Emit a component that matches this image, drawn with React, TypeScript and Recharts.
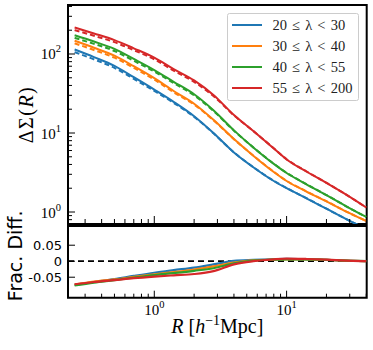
import { LineChart, Line, XAxis, YAxis, ReferenceArea, ReferenceLine, Label } from 'recharts';

const SERIF = '"Liberation Serif", "DejaVu Serif", serif';
const SANS = '"DejaVu Sans", sans-serif';

const COLORS = ['#1f77b4', '#ff7f0e', '#2ca02c', '#d62728'];
const LABELS = ['20 ≤ λ < 30', '30 ≤ λ < 40', '40 ≤ λ < 55', '55 ≤ λ < 200'];

// projected radius, h^-1 Mpc
const R = [0.25, 0.35, 0.5, 0.7, 1.0, 1.4, 2.0, 2.8, 4.0, 5.6, 8.0, 10, 14, 20, 28, 40];

// Delta Sigma(R), solid = measured, dashed = model
const blueSolid = [114, 91.4, 70.7, 50.8, 35.4, 24.8, 16.3, 10, 5.67, 3.69, 2.47, 2.0, 1.5, 1.1, 0.82, 0.61];
const blueDashed = [105.6, 85.5, 66.7, 48.5, 34.1, 24.1, 16.0, 9.9, 5.68, 3.7, 2.48, 2.01, 1.51, 1.1, 0.82, 0.61];
const orangeSolid = [147, 120, 95.2, 70.1, 49.5, 34, 23.5, 14.7, 8.37, 5.16, 3.21, 2.47, 1.83, 1.36, 1.02, 0.77];
const orangeDashed = [136.3, 112.3, 89.8, 66.7, 47.5, 32.8, 22.9, 14.5, 8.34, 5.18, 3.23, 2.48, 1.84, 1.37, 1.02, 0.77];
const greenSolid = [173, 144, 116, 86.5, 62.7, 44.5, 30.9, 19.4, 10.8, 6.57, 4.07, 3.12, 2.26, 1.63, 1.19, 0.865];
const greenDashed = [159.9, 134.4, 109.2, 82.1, 60, 42.9, 30, 19, 10.7, 6.58, 4.09, 3.14, 2.27, 1.64, 1.19, 0.865];
const redSolid = [216, 182, 150, 118, 90, 64.5, 46.3, 30.3, 16.9, 10.6, 6.37, 4.62, 3.28, 2.33, 1.67, 1.14];
const redDashed = [200.4, 170.2, 141.2, 111.7, 85.7, 61.6, 44.4, 29.4, 16.7, 10.6, 6.41, 4.66, 3.3, 2.34, 1.67, 1.14];

// fractional difference
const blueFrac = [-0.074, -0.065, -0.056, -0.046, -0.036, -0.028, -0.02, -0.01, 0.001, 0.004, 0.006, 0.007, 0.006, 0.004, 0.002, 0.0];
const orangeFrac = [-0.073, -0.064, -0.057, -0.049, -0.041, -0.034, -0.026, -0.016, -0.004, 0.003, 0.005, 0.006, 0.006, 0.004, 0.002, 0.0];
const greenFrac = [-0.076, -0.067, -0.059, -0.051, -0.043, -0.037, -0.03, -0.022, -0.007, 0.002, 0.005, 0.006, 0.006, 0.004, 0.002, 0.0];
const redFrac = [-0.072, -0.065, -0.059, -0.053, -0.048, -0.044, -0.04, -0.031, -0.01, 0.0, 0.006, 0.008, 0.007, 0.005, 0.002, 0.0];

const X_TICKS = [0.3, 0.4, 0.5, 0.6, 0.7, 0.8, 0.9, 1, 2, 3, 4, 5, 6, 7, 8, 9, 10, 20, 30, 40];
const Y_TICKS = [0.8, 0.9, 1, 2, 3, 4, 5, 6, 7, 8, 9, 10, 20, 30, 40, 50, 60, 70, 80, 90, 100, 200, 300, 400];
const FRAC_TICKS = [-0.05, 0, 0.05];

const X_DOMAIN = [0.2228, 40.3];
const Y_DOMAIN = [0.705, 417];
const FRAC_DOMAIN = [-0.114, 0.11];

const topData = R.map((r, i) => ({
  R: r,
  b: blueSolid[i], bd: blueDashed[i],
  o: orangeSolid[i], od: orangeDashed[i],
  g: greenSolid[i], gd: greenDashed[i],
  r: redSolid[i], rd: redDashed[i],
}));

const fracData = R.map((r, i) => ({ R: r, b: blueFrac[i], o: orangeFrac[i], g: greenFrac[i], r: redFrac[i] }));

const isMajor = (v: number) => v === 1 || v === 10 || v === 100;
const expOf = (v: number) => Math.round(Math.log10(v));

function YTickTop(props: any) {
  const { x, y, payload } = props;
  const v = payload.value;
  const major = isMajor(v);
  return (
    <g>
      <line x1={x} x2={x + (major ? 7 : 4)} y1={y} y2={y} stroke="#000" strokeWidth={1} />
      {major && (
        <text x={x - 7} y={y + 5.5} textAnchor="end" fontFamily={SERIF} fontSize={15} fill="#000">
          10<tspan dy={-7} fontSize={10.5}>{expOf(v)}</tspan>
        </text>
      )}
    </g>
  );
}

function XTickTop(props: any) {
  const { x, y, payload } = props;
  const major = isMajor(payload.value);
  return <line x1={x} x2={x} y1={y - 1} y2={y - 1 - (major ? 7 : 4)} stroke="#000" strokeWidth={1} />;
}

function XTickBottom(props: any) {
  const { x, y, payload } = props;
  const v = payload.value;
  const major = isMajor(v);
  return (
    <g>
      <line x1={x} x2={x} y1={y} y2={y - (major ? 7 : 4)} stroke="#000" strokeWidth={1} />
      {major && (
        <text x={x} y={y + 17.5} textAnchor="middle" fontFamily={SERIF} fontSize={15} fill="#000">
          10<tspan dy={-7} fontSize={10.5}>{expOf(v)}</tspan>
        </text>
      )}
    </g>
  );
}

function FracTick(props: any) {
  const { x, y, payload } = props;
  const v = payload.value;
  return (
    <g>
      <line x1={x} x2={x + 7} y1={y} y2={y} stroke="#000" strokeWidth={1} />
      <text x={x - 6} y={y + 4.8} textAnchor="end" fontFamily={SANS} fontSize={13} fill="#000">
        {v === 0 ? '0' : v.toFixed(2)}
      </text>
    </g>
  );
}

function DeltaSigmaLabel(props: any) {
  const vb = props.viewBox;
  const cx = 33;
  const cy = vb.y + vb.height / 2;
  return (
    <text x={cx} y={cy} transform={`rotate(-90, ${cx}, ${cy})`} textAnchor="middle" fontFamily={SERIF} fontSize={20} letterSpacing={1.5} fill="#000">
      ΔΣ(<tspan fontStyle="italic">R</tspan>)
    </text>
  );
}

function FracLabel(props: any) {
  const vb = props.viewBox;
  const cx = 21.7;
  const cy = vb.y + vb.height / 2 - 6;
  return (
    <text x={cx} y={cy} transform={`rotate(-90, ${cx}, ${cy})`} textAnchor="middle" fontFamily={SANS} fontSize={19} fill="#000">
      Frac. Diff.
    </text>
  );
}

function RLabel(props: any) {
  const vb = props.viewBox;
  return (
    <text x={vb.x + vb.width / 2} y={vb.y + 35.5} textAnchor="middle" fontFamily={SERIF} fontSize={20} fill="#000">
      <tspan fontStyle="italic">R</tspan> [<tspan fontStyle="italic">h</tspan>
      <tspan dy={-8} fontSize={14}>−1</tspan>
      <tspan dy={8}>Mpc]</tspan>
    </text>
  );
}

const SOLID_KEYS = ['b', 'o', 'g', 'r'];

function LegendBox() {
  return (
    <svg width={373} height={350} style={{ position: 'absolute', left: 0, top: 0, pointerEvents: 'none' }}>
      <rect x={227.5} y={13.5} width={131} height={87} rx={2} fill="#fff" fillOpacity={0.85} stroke="#ccc" strokeWidth={1} />
      {LABELS.map((lab, i) => {
        const cy = 25 + i * 21;
        return (
          <g key={lab}>
            <line x1={232} x2={262} y1={cy} y2={cy} stroke={COLORS[i]} strokeWidth={2} />
            <text x={272.5} y={cy + 4.8} fontFamily={SERIF} fontSize={14.5} fill="#222" wordSpacing={1.5}>
              {lab}
            </text>
          </g>
        );
      })}
    </svg>
  );
}

export default function App() {
  return (
    <div style={{ position: 'absolute', left: 0, top: 0, width: 373, height: 350, background: '#fff' }}>
      <div style={{ position: 'absolute', left: 0, top: 0 }}>
        <LineChart width={373} height={225} data={topData} margin={{ top: 5, right: 6.3, bottom: 0, left: 0 }}>
          <XAxis dataKey="R" type="number" scale="log" domain={X_DOMAIN} allowDataOverflow ticks={X_TICKS} interval={0}
            tickSize={0} tickMargin={0} axisLine={false} tickLine={false} tick={XTickTop} height={1} />
          <YAxis type="number" scale="log" domain={Y_DOMAIN} allowDataOverflow ticks={Y_TICKS} interval={0}
            tickSize={0} tickMargin={0} axisLine={false} tickLine={false} tick={YTickTop} width={68}>
            <Label content={DeltaSigmaLabel} />
          </YAxis>
          {SOLID_KEYS.map((k, i) => [
            <Line key={k} type="monotone" dataKey={k} stroke={COLORS[i]} strokeWidth={2} dot={false} isAnimationActive={false} />,
            <Line key={k + 'd'} type="monotone" dataKey={k + 'd'} stroke={COLORS[i]} strokeWidth={2} strokeDasharray="5 3" dot={false} isAnimationActive={false} />,
          ])}
          <ReferenceArea x1={X_DOMAIN[0]} x2={X_DOMAIN[1]} y1={Y_DOMAIN[0]} y2={Y_DOMAIN[1]} fill="none" stroke="#000" strokeWidth={2} ifOverflow="visible" />
        </LineChart>
      </div>
      <div style={{ position: 'absolute', left: 0, top: 205 }}>
        <LineChart width={373} height={145} data={fracData} margin={{ top: 21, right: 6.3, bottom: 0, left: 0 }}>
          <XAxis dataKey="R" type="number" scale="log" domain={X_DOMAIN} allowDataOverflow ticks={X_TICKS} interval={0}
            tickSize={0} tickMargin={0} axisLine={false} tickLine={false} tick={XTickBottom} height={52.3}>
            <Label content={RLabel} />
          </XAxis>
          <YAxis type="number" domain={FRAC_DOMAIN} allowDataOverflow ticks={FRAC_TICKS} interval={0}
            tickSize={0} tickMargin={0} axisLine={false} tickLine={false} tick={FracTick} width={68}>
            <Label content={FracLabel} />
          </YAxis>
          <ReferenceLine y={0} stroke="#000" strokeWidth={1.8} strokeDasharray="6 4" />
          {SOLID_KEYS.map((k, i) => (
            <Line key={k} type="monotone" dataKey={k} stroke={COLORS[i]} strokeWidth={2.2} dot={false} isAnimationActive={false} />
          ))}
          <ReferenceArea x1={X_DOMAIN[0]} x2={X_DOMAIN[1]} y1={FRAC_DOMAIN[0]} y2={FRAC_DOMAIN[1]} fill="none" stroke="#000" strokeWidth={2} ifOverflow="visible" />
        </LineChart>
      </div>
      <LegendBox />
    </div>
  );
}
